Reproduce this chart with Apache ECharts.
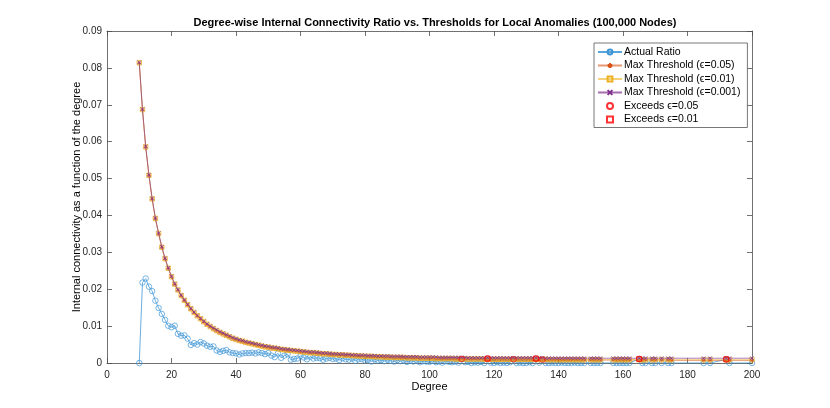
<!DOCTYPE html>
<html>
<head>
<meta charset="utf-8">
<script src="https://cdn.jsdelivr.net/npm/echarts@6/dist/echarts.min.js"></script>
<style>
html,body{margin:0;padding:0;background:#fff;}
#chart{width:830px;height:408px;}
</style>
</head>
<body>
<div id="chart"></div>
<script>
// Degrees present (10..148 continuous, then sparse)
const denseDegrees = [];
for (let d = 10; d <= 148; d++) denseDegrees.push(d);
const sparseDegrees = [150,151,152,153,157,158,159,160,161,162,165,166,167,169,170,172,174,175,185,187,192,193,200];
const degrees = denseDegrees.concat(sparseDegrees);

const actualRatio = [
  0,.0218,.0229,.0207,.0195,.0169,.0149,.0133,.0117,.0101,
  .0097,.0101,.0079,.0074,.0075,.0066,.0049,.0054,.0050,.0057,
  .0053,.0047,.0044,.0045,.0034,.0030,.0033,.0035,.0029,.0027,
  .0026,.0023,.0026,.0027,.0027,.0028,.0026,.0029,.0027,.0024,
  .0027,.0020,.0016,.0026,.0014,.0020,.0024,.0009,.0011,.0012,
  .0019,.0015,.0010,.0017,.0012,.0014,.0013,.0009,.0012,.0014,
  .0011,.0012,.0008,.0013,.0010,.0009,.0012,.0006,.0010,.0011,
  .0007,.0009,.0004,.0010,.0007,.0008,.0005,.0009,.0006,.0004,
  .0008,.0005,.0007,.0003,.0006,.0004,.0007,.0002,.0005,.0004,
  .0003,.0006,.0002,.0004,.0001,.0005,.0003,.0002,.0004,.0001,
  .0011,.0002,.0003,0,.0002,.0001,.0003,0,.0012,.0001,
  0,.0002,0,.0001,0,.0002,.0010,0,.0001,0,
  0,.0002,0,.0012,.0001,.0009,0,0,.0001,0,
  0,.0001,0,0,0,.0001,0,0,0,
  // sparse
  0,0,0,0,0,0,0,0,0,0,.0011,0,0,0,0,0,0,0,0,0,.0010,0,0
];

const thr005 = [
  .0813,.0686,.0585,.0508,.0444,.0391,.0350,.0313,.0282,.0256,
  .0233,.0213,.0197,.0182,.0169,.0157,.0146,.0136,.0127,.0119,
  .0111,.0104,.0098,.0092,.0087,.0082,.0078,.0074,.0070,.0066,
  .0063,.0060,.0058,.0055,.0053,.0051,.0049,.0047,.0045,.0043,
  .0042,.0040,.0039,.0038,.0036,.0035,.0034,.0033,.0032,.0031,
  .0030,.0029,.0028,.0027,.0027,.0026,.0025,.0024,.0024,.0023,
  .0022,.0022,.0021,.0021,.0020,.0020,.0019,.0019,.0018,.0018,
  .0017,.0017,.0017,.0016,.0016,.0016,.0015,.0015,.0015,.0014,
  .0014,.0014,.0014,.0013,.0013,.0013,.0013,.0012,.0012,.0012,
  .0012,.0012,.0011,.0011,.0011,.0011,.0011,.0011,.0010,.0010,
  .0010,.0010,.0010,.0010,.0010,.0010,.0010,.0009,.0009,.0009,
  .0009,.0009,.0009,.0009,.0009,.0009,.0009,.0009,.0009,.0009,
  .0009,.0009,.0008,.0008,.0008,.0008,.0008,.0008,.0008,.0008,
  .0008,.0008,.0008,.0008,.0008,.0008,.0008,.0008,.0008,
  // sparse
  .0008,.0008,.0008,.0008,.0008,.0008,.0008,.0008,.0008,.0008,.0008,.0008,
  .0008,.0008,.0008,.0008,.0008,.0007,.0007,.0007,.0007,.0007,.0007
];

const thr001 = [
  .0814,.0687,.0586,.0509,.0445,.0392,.0351,.0314,.0283,.0257,
  .0234,.0214,.0198,.0183,.0170,.0158,.0147,.0137,.0128,.0120,
  .0112,.0105,.0099,.0093,.0088,.0083,.0079,.0075,.0071,.0067,
  .0064,.0061,.0059,.0056,.0054,.0052,.0050,.0048,.0046,.0044,
  .0043,.0041,.0040,.0039,.0037,.0036,.0035,.0034,.0033,.0032,
  .0031,.0030,.0029,.0028,.0028,.0027,.0026,.0025,.0025,.0024,
  .0023,.0023,.0022,.0022,.0021,.0021,.0020,.0020,.0019,.0019,
  .0018,.0018,.0018,.0017,.0017,.0017,.0016,.0016,.0016,.0015,
  .0015,.0015,.0015,.0014,.0014,.0014,.0014,.0013,.0013,.0013,
  .0013,.0013,.0012,.0012,.0012,.0012,.0012,.0012,.0011,.0011,
  .0011,.0011,.0011,.0011,.0011,.0011,.0011,.0010,.0010,.0010,
  .0010,.0010,.0010,.0010,.0010,.0010,.0010,.0010,.0010,.0010,
  .0010,.0010,.0010,.0010,.0010,.0010,.0010,.0009,.0009,.0009,
  .0009,.0009,.0009,.0009,.0009,.0009,.0009,.0009,.0009,
  // sparse
  .0009,.0009,.0009,.0009,.0009,.0009,.0009,.0009,.0009,.0009,.0009,.0009,
  .0009,.0009,.0009,.0009,.0009,.0009,.0009,.0009,.0009,.0009,.0009
];

const thr0001 = [
  .0815,.0688,.0587,.0510,.0446,.0393,.0352,.0315,.0284,.0258,
  .0235,.0215,.0199,.0184,.0171,.0159,.0148,.0138,.0129,.0121,
  .0113,.0106,.0100,.0095,.0090,.0085,.0081,.0077,.0073,.0069,
  .0066,.0063,.0061,.0058,.0056,.0054,.0052,.0050,.0048,.0046,
  .0045,.0043,.0042,.0041,.0039,.0038,.0037,.0036,.0035,.0034,
  .0033,.0032,.0031,.0030,.0030,.0029,.0028,.0027,.0027,.0026,
  .0025,.0025,.0024,.0024,.0023,.0023,.0022,.0022,.0021,.0021,
  .0021,.0020,.0020,.0020,.0019,.0019,.0019,.0019,.0018,.0018,
  .0018,.0018,.0017,.0017,.0017,.0017,.0017,.0016,.0016,.0016,
  .0016,.0016,.0016,.0015,.0015,.0015,.0015,.0015,.0015,.0015,
  .0015,.0015,.0014,.0014,.0014,.0014,.0014,.0014,.0014,.0014,
  .0014,.0014,.0014,.0014,.0014,.0014,.0014,.0014,.0014,.0014,
  .0014,.0014,.0014,.0014,.0014,.0014,.0013,.0013,.0013,.0013,
  .0013,.0013,.0013,.0013,.0013,.0013,.0013,.0013,.0013,
  // sparse
  .0013,.0013,.0013,.0013,.0013,.0013,.0013,.0013,.0013,.0013,.0013,.0013,
  .0013,.0013,.0013,.0013,.0013,.0013,.0013,.0013,.0013,.0013,.0013
];

const exceed005Degrees = [110,118,126,133,135,165,192];
const exceed001Degrees = [118,133,165,192];

const xTicks = {min:0, max:200, interval:20};
const yTicks = {min:0, max:0.09, interval:0.01};

const pairs = arr => degrees.map((d,i) => [d, arr[i]]);
const exceedPts = list => list.map(d => [d, actualRatio[degrees.indexOf(d)]]);

const FONT = '"Liberation Sans", Arial, Helvetica, sans-serif';
const AX = '#4d4d4d';

const chart = echarts.init(document.getElementById('chart'), null, {renderer:'canvas'});
const starPath = 'path://M5,0L5,10M0,5L10,5M1.5,1.5L8.5,8.5M8.5,1.5L1.5,8.5';
const xPath = 'path://M0,0L10,10M10,0L0,10';
const sqPath = 'path://M0,0L10,0L10,10L0,10Z';
const circPath = 'path://M10,5A5,5,0,1,1,0,5A5,5,0,1,1,10,5Z';

chart.setOption({
  animation:false,
  backgroundColor:'#fff',
  title:{
    text:'Degree-wise Internal Connectivity Ratio vs. Thresholds for Local Anomalies (100,000 Nodes)',
    left:430, top:12, textAlign:'center',
    textStyle:{fontFamily:FONT, fontSize:11, fontWeight:'bold', color:'#000'}
  },
  grid:{left:107, right:78, top:31, bottom:45, containLabel:false},
  legend:{
    orient:'vertical', left:594, top:43,
    backgroundColor:'#fff', borderColor:'#555', borderWidth:0.8, borderRadius:0,
    padding:[3,7,2,3], itemGap:1.5, itemWidth:24, itemHeight:6,
    textStyle:{fontFamily:FONT, fontSize:10.5, color:'#000', lineHeight:12, padding:[0,0,0,-3]},
    data:['Actual Ratio','Max Threshold (ϵ=0.05)','Max Threshold (ϵ=0.01)','Max Threshold (ϵ=0.001)','Exceeds ϵ=0.05','Exceeds ϵ=0.01']
  },
  xAxis:[{
    type:'value', min:xTicks.min, max:xTicks.max, interval:xTicks.interval,
    name:'Degree', nameLocation:'middle', nameGap:18, nameMoveOverlap:false,
    nameTextStyle:{fontFamily:FONT, fontSize:11, color:'#000'},
    axisLine:{show:true, onZero:false, lineStyle:{color:AX, width:0.8}},
    axisTick:{show:true, inside:true, length:5, lineStyle:{color:AX, width:0.8}},
    axisLabel:{fontFamily:FONT, fontSize:10, color:'#262626', margin:7},
    splitLine:{show:false}
  },{
    type:'value', position:'top', min:xTicks.min, max:xTicks.max, interval:xTicks.interval,
    axisLine:{show:true, onZero:false, lineStyle:{color:AX, width:0.8}},
    axisTick:{show:true, inside:true, length:5, lineStyle:{color:AX, width:0.8}},
    axisLabel:{show:false}, splitLine:{show:false}
  }],
  yAxis:[{
    type:'value', min:yTicks.min, max:yTicks.max, interval:yTicks.interval,
    name:'Internal connectivity as a function of the degree', nameLocation:'middle', nameGap:25, nameMoveOverlap:false,
    nameTextStyle:{fontFamily:FONT, fontSize:11, color:'#000'},
    axisLine:{show:true, onZero:false, lineStyle:{color:AX, width:0.8}},
    axisTick:{show:true, inside:true, length:5, lineStyle:{color:AX, width:0.8}},
    axisLabel:{fontFamily:FONT, fontSize:10, color:'#262626', margin:5,
      formatter:v => v === 0 ? '0' : v.toFixed(2)},
    splitLine:{show:false}
  },{
    type:'value', position:'right', min:yTicks.min, max:yTicks.max, interval:yTicks.interval,
    axisLine:{show:true, onZero:false, lineStyle:{color:AX, width:0.8}},
    axisTick:{show:true, inside:true, length:5, lineStyle:{color:AX, width:0.8}},
    axisLabel:{show:false}, splitLine:{show:false}
  }],
  series:[
    {
      name:'Actual Ratio', type:'line', data:pairs(actualRatio),
      symbol:circPath, symbolSize:5.5, symbolKeepAspect:true,
      lineStyle:{color:'#3d95d6', width:0.9, opacity:0.85},
      itemStyle:{color:'rgba(255,255,255,0)', borderColor:'#3d95d6', borderWidth:0.7},
      z:2
    },
    {
      name:'Max Threshold (ϵ=0.05)', type:'line', data:pairs(thr005),
      symbol:starPath, symbolSize:4.5,
      lineStyle:{color:'#D95319', width:0.9, opacity:0.6},
      itemStyle:{color:'#D95319', borderColor:'#D95319', borderWidth:0.7},
      z:3
    },
    {
      name:'Max Threshold (ϵ=0.01)', type:'line', data:pairs(thr001),
      symbol:sqPath, symbolSize:4.5, symbolKeepAspect:true,
      lineStyle:{color:'#EDB120', width:0.9, opacity:0.6},
      itemStyle:{color:'rgba(255,255,255,0)', borderColor:'#EDB120', borderWidth:0.7},
      z:4
    },
    {
      name:'Max Threshold (ϵ=0.001)', type:'line', data:pairs(thr0001),
      symbol:xPath, symbolSize:3.5,
      lineStyle:{color:'#7E2F8E', width:0.9, opacity:0.7},
      itemStyle:{color:'#7E2F8E', borderColor:'#7E2F8E', borderWidth:0.8},
      z:5
    },
    {
      name:'Exceeds ϵ=0.05', type:'scatter', data:exceedPts(exceed005Degrees),
      symbol:circPath, symbolSize:5.5, symbolKeepAspect:true,
      itemStyle:{color:'rgba(255,255,255,0)', borderColor:'#FF0000', borderWidth:0.8},
      z:6
    },
    {
      name:'Exceeds ϵ=0.01', type:'scatter', data:exceedPts(exceed001Degrees),
      symbol:sqPath, symbolSize:5, symbolKeepAspect:true,
      itemStyle:{color:'rgba(255,255,255,0)', borderColor:'#FF0000', borderWidth:0.8},
      z:7
    }
  ]
});
</script>
</body>
</html>
